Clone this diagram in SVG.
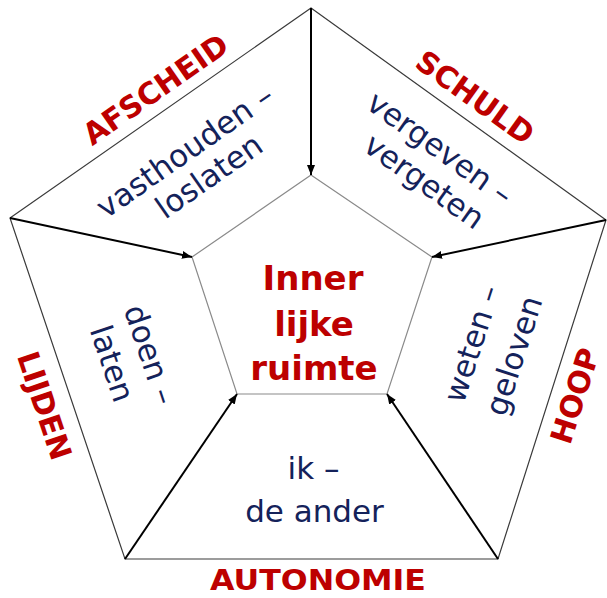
<svg xmlns="http://www.w3.org/2000/svg" width="607" height="598" viewBox="0 0 607 598">
<defs>
<marker id="ah" viewBox="0 0 10 8" refX="10" refY="4" markerWidth="10" markerHeight="8" markerUnits="userSpaceOnUse" orient="auto">
<path d="M0,0 L10,4 L0,8 Z" fill="#000"/>
</marker>
<style>
.outer{fill:#fff;stroke:#3a3a3a;stroke-width:1.2}
.inner{fill:none;stroke:#8a8a8a;stroke-width:1.2}
.arr{stroke:#000;stroke-width:2;fill:none}
.red{font-family:"DejaVu Sans",sans-serif;font-weight:bold;fill:#BD0000;text-anchor:middle}
.blue{font-family:"DejaVu Sans",sans-serif;fill:#14225A;text-anchor:middle;font-size:31px}
</style>
</defs>
<rect width="607" height="598" fill="#fff"/>
<g id="outer-pentagon">
<polygon class="outer" points="311,8 606,220 498,559 125,559 10,218"/>
</g>
<g id="inner-pentagon">
<polygon class="inner" points="311,175 432,257 387,394 237,394 192,257"/>
</g>
<g id="connectors">
<line class="arr" x1="311" y1="8" x2="311" y2="175" marker-end="url(#ah)"/>
<line class="arr" x1="10" y1="218" x2="192" y2="257" marker-end="url(#ah)"/>
<line class="arr" x1="606" y1="220" x2="432" y2="257" marker-end="url(#ah)"/>
<line class="arr" x1="125" y1="559" x2="237" y2="394" marker-end="url(#ah)"/>
<line class="arr" x1="498" y1="559" x2="387" y2="394" marker-end="url(#ah)"/>
</g>
<g id="center">
<text class="red" x="313" y="290" font-size="34">Inner</text>
<text class="red" x="314" y="336" font-size="34">lijke</text>
<text class="red" x="314" y="380" font-size="34">ruimte</text>
</g>
<g id="afscheid">
<text class="red" font-size="30" transform="translate(161.5,98) rotate(-34.9)">AFSCHEID</text>
<text class="blue" transform="translate(191,160) rotate(-34.9)">vasthouden –</text>
<text class="blue" transform="translate(215,185) rotate(-34.9)">loslaten</text>
</g>
<g id="schuld">
<text class="red" font-size="30" transform="translate(469,106) rotate(35.6)">SCHULD</text>
<text class="blue" transform="translate(434,157) rotate(35.6)">vergeven –</text>
<text class="blue" transform="translate(418,190) rotate(35.6)">vergeten</text>
</g>
<g id="lijden">
<text class="red" font-size="30" transform="translate(34.5,409) rotate(71.4)">LIJDEN</text>
<text class="blue" transform="translate(140,358) rotate(71.4)">doen –</text>
<text class="blue" transform="translate(102,367) rotate(71.4)">laten</text>
</g>
<g id="hoop">
<text class="red" font-size="30" transform="translate(585,399) rotate(-72.2)">HOOP</text>
<text class="blue" transform="translate(482,347) rotate(-72.2)">weten –</text>
<text class="blue" transform="translate(524,359) rotate(-72.2)">geloven</text>
</g>
<g id="autonomie">
<text class="red" font-size="29" x="318" y="590" textLength="216" lengthAdjust="spacingAndGlyphs">AUTONOMIE</text>
<text class="blue" x="313.5" y="479">ik –</text>
<text class="blue" x="314.5" y="522" font-size="32">de ander</text>
</g>
</svg>
